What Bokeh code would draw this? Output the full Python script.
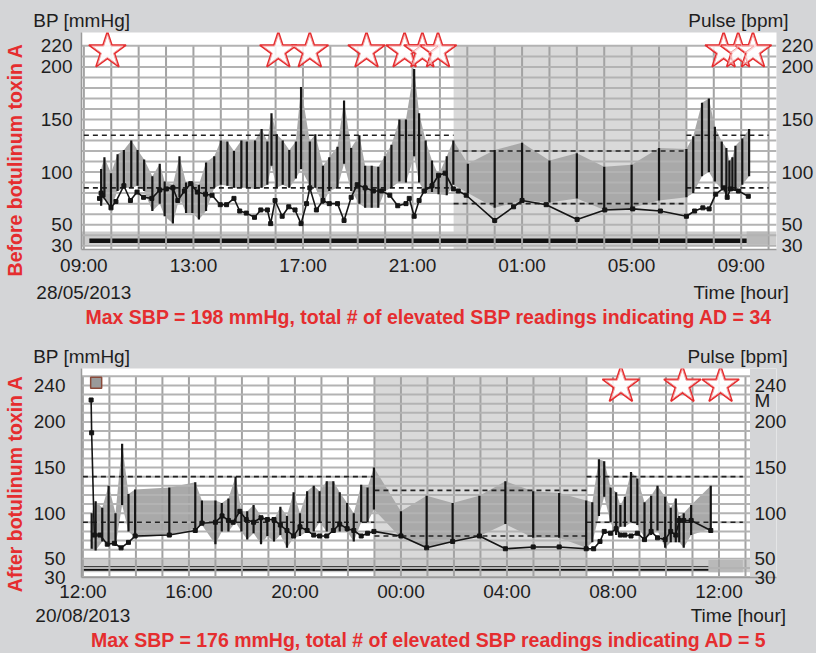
import numpy as np
from bokeh.plotting import figure
from bokeh.models import Range1d, LinearAxis, FixedTicker
from bokeh.layouts import column
from bokeh.embed import file_html
from bokeh.resources import INLINE

# ---------------- DATA: before botulinum toxin (hours after 09:00, 28/05/2013) ----------------
top_bp_t = [0.63, 0.75, 0.99, 1.23, 1.46, 1.73, 1.96, 2.20, 2.50, 2.77, 2.95, 3.25, 3.49, 3.73, 3.96,
            4.20, 4.46, 4.76, 5.00, 5.24, 5.48, 5.75, 5.95, 6.25, 6.49, 6.70, 6.85, 7.04, 7.26, 7.50,
            7.74, 7.93, 8.25, 8.45, 8.73, 8.96, 9.26, 9.50, 9.76, 10.06, 10.27, 10.51, 10.75, 10.99,
            11.23, 11.52, 11.76, 12.06, 12.24, 12.48, 12.71, 12.95, 13.25, 13.49, 14.02, 15.0, 16.0,
            17.0, 18.0, 19.0, 20.0, 21.0, 22.0, 22.25, 22.57, 22.82, 23.04, 23.29, 23.46, 23.57,
            23.68, 23.79, 24.04, 24.29]
top_sbp = [103, 114, 99, 117, 121, 130, 121, 112, 96, 108, 91, 88, 115, 90, 90,
           88, 109, 115, 130, 129, 120, 130, 129, 130, 141, 129, 156, 136, 130, 121,
           129, 181, 129, 136, 106, 114, 124, 168, 123, 135, 106, 106, 105, 115,
           126, 150, 150, 198, 156, 130, 111, 97, 115, 130, 108, 121, 128,
           111, 118, 105, 107, 123, 122, 134, 166, 170, 143, 129, 123, 111,
           114, 125, 132, 141]
top_dbp = [68, 76, 66, 82, 85, 85, 87, 82, 63, 70, 58, 51, 76, 61, 61,
           55, 63, 85, 88, 87, 85, 85, 85, 84, 85, 88, 106, 85, 88, 85,
           94, 103, 87, 85, 70, 82, 85, 108, 82, 70, 66, 66, 66, 82,
           85, 91, 90, 115, 90, 80, 81, 79, 78, 88, 80, 66, 73,
           71, 75, 64, 66, 73, 76, 80, 96, 100, 91, 84, 76, 82,
           82, 82, 88, 96]
top_pulse_t = [0.57, 0.63, 0.67, 0.99, 1.17, 1.46, 1.70, 1.94, 2.18, 2.48, 2.77, 3.01, 3.25, 3.43,
               3.67, 3.90, 4.14, 4.44, 4.68, 4.98, 5.21, 5.48, 5.69, 5.93, 6.23, 6.46, 6.70, 6.82,
               6.98, 7.24, 7.48, 7.71, 7.93, 8.13, 8.25, 8.49, 8.73, 8.96, 9.26, 9.50, 9.76, 9.98,
               10.27, 10.57, 10.87, 11.17, 11.46, 11.76, 11.88, 12.06, 12.24, 12.42, 12.71, 12.95,
               13.19, 13.49, 13.67, 13.96, 15.0, 15.69, 16.0, 16.88, 18.01, 19.02, 20.04, 21.05,
               22.0, 22.3, 22.6, 22.83, 23.07, 23.37, 23.49, 23.61, 23.9, 24.26]
top_pulse = [75, 80, 78, 66, 72, 87, 73, 81, 76, 75, 83, 84, 85, 73,
             82, 89, 81, 79, 78, 69, 69, 75, 63, 61, 57, 64, 64, 51,
             73, 58, 67, 64, 51, 70, 85, 64, 73, 70, 70, 54, 76, 88,
             85, 82, 82, 78, 68, 70, 75, 58, 73, 82, 87, 97,
             99, 84, 82, 78, 54, 67, 73, 69, 55, 64, 65, 63,
             58, 63, 66, 65, 79, 85, 76, 84, 82, 77]
top_star_t = [0.86, 7.10, 8.25, 10.32, 11.71, 12.36, 12.93, 23.36, 23.89, 24.43]
top_x_ticks = [0, 4, 8, 12, 16, 20, 24]
top_x_labels = ["09:00\n28/05/2013", "13:00", "17:00", "21:00", "01:00", "05:00", "09:00\nTime [hour]"]
top_y_ticks = [30, 50, 100, 150, 200, 220]
top_night = [13.5, 22.0]
top_day_limits = [135, 85]
top_night_limits = [120, 70]
top_record = [0.2, 24.2]
top_title = "Max SBP = 198 mmHg, total # of elevated SBP readings indicating AD = 34"
top_side = "Before botulinum toxin A"

# ---------------- DATA: after botulinum toxin (hours after 12:00, 20/08/2013) ----------------
bot_bp_t = [0.33, 0.48, 0.73, 0.97, 1.23, 1.48, 1.72, 1.97, 3.26, 4.24,
            4.49, 5.0, 5.24, 5.49, 5.76, 5.98, 6.2, 6.44, 6.72, 6.96,
            7.21, 7.45, 7.70, 7.95, 8.19, 8.46, 8.71, 8.93, 9.2, 9.45,
            9.69, 9.97, 10.22, 10.5, 10.74, 10.98, 12.0, 12.97, 13.95, 14.96,
            15.94, 16.99, 17.97, 18.99, 19.22, 19.47, 19.67, 19.91, 20.12, 20.28,
            20.45, 20.68, 20.92, 21.19, 21.44, 21.68, 21.97, 22.18, 22.37, 22.5,
            22.67, 22.95, 23.69]
bot_sbp = [100, 113, 106, 130, 100, 176, 121, 126, 128, 134,
           114, 114, 111, 116, 140, 102, 102, 109, 97, 93,
           93, 107, 97, 123, 100, 124, 130, 124, 135, 135,
           123, 111, 100, 131, 128, 150, 102, 119, 111, 119,
           135, 124, 122, 114, 112, 159, 157, 128, 123, 109,
           118, 145, 138, 112, 119, 130, 118, 106, 116, 97,
           100, 109, 130]
bot_dbp = [61, 59, 69, 68, 64, 109, 80, 73, 76, 83,
           87, 66, 80, 80, 90, 80, 71, 78, 66, 75,
           69, 76, 62, 73, 75, 80, 80, 90, 80, 80,
           80, 80, 69, 90, 90, 104, 73, 62, 69, 75,
           88, 73, 73, 62, 68, 97, 118, 90, 76, 85,
           85, 90, 87, 73, 76, 81, 62, 68, 68, 68,
           62, 76, 83]
bot_pulse_t = [0.31, 0.33, 0.43, 0.64, 0.92, 1.19, 1.44, 1.72, 1.97, 3.26,
               4.24, 4.49, 5.0, 5.25, 5.49, 5.67, 5.92, 6.16, 6.44, 6.72,
               6.96, 7.21, 7.45, 7.70, 7.95, 8.19, 8.46, 8.71, 8.93, 9.2,
               9.45, 9.69, 9.97, 10.22, 10.5, 10.74, 10.98, 12.0, 12.97, 13.95,
               14.96, 15.94, 16.99, 17.97, 18.99, 19.27, 19.51, 19.67, 19.91, 20.12,
               20.28, 20.45, 20.68, 20.92, 21.19, 21.44, 21.68, 21.97, 22.18, 22.37,
               22.5, 22.67, 22.95, 23.69]
bot_pulse = [224, 188, 76, 76, 66, 67, 62, 68, 75, 76,
             81, 89, 90, 97, 92, 90, 102, 93, 90, 95,
             93, 93, 87, 81, 75, 85, 81, 76, 75, 75,
             81, 88, 83, 81, 75, 78, 80, 75, 62, 69,
             75, 61, 63, 63, 61, 61, 69, 80, 78, 83,
             76, 76, 75, 78, 71, 80, 73, 71, 80, 76,
             92, 92, 92, 81]
bot_star_t = [20.3, 22.62, 24.06]
bot_event_t = [0.5]
bot_x_ticks = [0, 4, 8, 12, 16, 20, 24, 24.73]
bot_x_labels = ["12:00\n20/08/2013", "16:00", "20:00", "00:00", "04:00", "08:00", "12:00", " \nTime [hour]"]
bot_y_ticks = [30, 50, 100, 150, 200, 240]
bot_night = [11.0, 19.0]
bot_day_limits = [140, 90]
bot_night_limits = [125, 75]
bot_record = [0.0, 23.6]
bot_title = "Max SBP = 176 mmHg, total # of elevated SBP readings indicating AD = 5"
bot_side = "After botulinum toxin A"

# ---------------- STYLE ----------------
FONT = "Liberation Sans"
BG = "#d4d5d7"
RED = "#e52d2f"
NIGHT = "#d9d9d9"
BAND = "#a9a9a9"
GRID = "#a3a3a3"
TXT = "#1e1e1e"
FS = "19px"
RFS = "19.5px"
NBSP = "\u00a0"


def style_axis(ax, standoff):
    ax.major_label_text_font = FONT
    ax.major_label_text_font_size = FS
    ax.major_label_text_color = TXT
    ax.major_tick_line_color = None
    ax.minor_tick_line_color = None
    ax.major_tick_out = 0
    ax.major_tick_in = 0
    ax.minor_tick_out = 0
    ax.minor_tick_in = 0
    ax.axis_line_color = "#9a9a9a"
    ax.axis_line_width = 1.5
    ax.major_label_standoff = standoff


def make_panel(cfg):
    p = figure(width=816, height=cfg["height"],
               x_range=Range1d(*cfg["xr"]), y_range=Range1d(*cfg["yr"]),
               output_backend="svg", toolbar_location=None,
               min_border_left=80, min_border_right=39,
               min_border_top=cfg["mt"], min_border_bottom=cfg["mb"])
    p.background_fill_color = "white"
    p.border_fill_color = BG
    p.outline_line_color = None
    p.xgrid.visible = False
    p.ygrid.visible = False

    x0, x1 = cfg["xr"]
    y0, y1 = cfg["yr"]
    xe = cfg["data_end"]
    gtop = cfg["grid_top"]

    # area right of the chart's own plotting zone (page colour)
    if xe < x1:
        p.quad(left=[xe], right=[x1], bottom=[y0], top=[y1],
               fill_color=BG, line_color=None, level="image")
    # night shading
    p.quad(left=[cfg["night"][0]], right=[cfg["night"][1]], bottom=[y0], top=[gtop],
           fill_color=NIGHT, line_color=None, level="image")
    # recording band at the bottom
    bb0, bb1 = cfg["band_y"]
    p.quad(left=[x0], right=[xe], bottom=[bb0], top=[bb1],
           fill_color="#cdcdcd", line_color=None, level="image")
    p.quad(left=[cfg["record"][1]], right=[cfg["band_end"]], bottom=[bb0], top=[bb1],
           fill_color="#b9b9b9", line_color=None, level="image")
    # BP envelope
    p.varea(x=cfg["t"], y1=cfg["dbp"], y2=cfg["sbp"], fill_color=BAND, level="image")
    # black record bar
    rb0, rb1 = cfg["bar_y"]
    p.quad(left=[cfg["record"][0]], right=[cfg["record"][1]], bottom=[rb0], top=[rb1],
           fill_color="#111111", line_color=None, level="image")

    # grid
    hours = np.arange(0, int(xe) + 1)
    p.segment(x0=hours, y0=[y0] * len(hours), x1=hours, y1=[gtop] * len(hours),
              line_color=GRID, line_width=2, level="underlay")
    levels = np.arange(30, gtop + 1, 10)
    p.segment(x0=[x0] * len(levels), y0=levels, x1=[xe] * len(levels), y1=levels,
              line_color="#b3b3b3", line_width=2, level="underlay")

    # limit lines
    n0, n1 = cfg["night"]
    for lim in cfg["day_lim"]:
        p.segment(x0=[0, n1], y0=[lim, lim], x1=[n0, cfg["day_end"]], y1=[lim, lim],
                  line_color="#222222", line_width=1.6, line_dash="5 4")
    for lim in cfg["night_lim"]:
        p.segment(x0=[n0], y0=[lim], x1=[n1], y1=[lim],
                  line_color="#222222", line_width=1.6, line_dash="5 4")

    # BP bars
    p.segment(x0=cfg["t"], y0=cfg["dbp"], x1=cfg["t"], y1=cfg["sbp"],
              line_color="#151515", line_width=2.2)
    # pulse
    p.line(cfg["pt"], cfg["pulse"], line_color="#151515", line_width=1.6)
    p.scatter(cfg["pt"], cfg["pulse"], marker="square", size=4, color="#151515")
    # stars (red outline with a soft inner outline)
    sy = [cfg["star_y"]] * len(cfg["stars"])
    p.scatter(cfg["stars"], sy, marker="star", size=39,
              fill_color="white", fill_alpha=0.85, line_color=RED, line_width=1.8)
    p.scatter(cfg["stars"], sy, marker="star", size=33,
              fill_color=None, line_color="#f2a3a3", line_width=1.0)

    # bottom time axis + red summary as axis label
    xa = p.xaxis[0]
    xa.ticker = FixedTicker(ticks=cfg["xt"])
    xa.major_label_overrides = {t: l for t, l in zip(cfg["xt"], cfg["xl"])}
    style_axis(xa, cfg["x_standoff"])
    xa.major_label_text_line_height = cfg["line_h"]
    xa.axis_label = cfg["title"]
    xa.axis_label_text_font = FONT
    xa.axis_label_text_font_size = RFS
    xa.axis_label_text_font_style = "bold"
    xa.axis_label_text_color = RED
    xa.axis_label_standoff = cfg["title_standoff"]

    # left BP axis
    ya = p.yaxis[0]
    ya.ticker = FixedTicker(ticks=cfg["yt"])
    style_axis(ya, cfg["y_standoff"])

    # right pulse axis
    ra = LinearAxis(ticker=FixedTicker(ticks=cfg["rt"]),
                    major_label_overrides=cfg["r_over"])
    p.add_layout(ra, "right")
    style_axis(ra, cfg["r_standoff"])
    ra.axis_line_color = None

    # outer left axis: only its rotated red label (trailing no-break spaces nudge it down)
    sa = LinearAxis(ticker=FixedTicker(ticks=[]),
                    axis_label=cfg["side"] + NBSP * cfg["side_pad"])
    p.add_layout(sa, "left")
    style_axis(sa, 0)
    sa.axis_line_color = None
    sa.axis_label_text_font = FONT
    sa.axis_label_text_font_size = RFS
    sa.axis_label_text_font_style = "bold"
    sa.axis_label_text_color = RED
    sa.axis_label_standoff = cfg["side_standoff"]

    # top axis carrying the unit headers
    hx = [x0 + 0.01, cfg["pulse_hdr_t"]]
    ha = LinearAxis(ticker=FixedTicker(ticks=hx),
                    major_label_overrides={hx[0]: "BP [mmHg]", hx[1]: "Pulse [bpm]"})
    p.add_layout(ha, "above")
    style_axis(ha, 2)
    ha.axis_line_color = None
    return p


top_cfg = dict(
    height=330, mt=32, mb=74,
    xr=(-0.087, 25.29), yr=(26.4, 232.7), grid_top=220, data_end=25.29,
    night=top_night, record=top_record, band_end=24.96,
    band_y=(31.0, 43.5), bar_y=(32.5, 36.8),
    t=top_bp_t, sbp=top_sbp, dbp=top_dbp, pt=top_pulse_t, pulse=top_pulse,
    day_lim=top_day_limits, night_lim=top_night_limits, day_end=25.0,
    stars=top_star_t, star_y=215,
    xt=top_x_ticks, xl=top_x_labels, yt=top_y_ticks, rt=top_y_ticks, r_over={}, r_standoff=5,
    x_standoff=5, line_h=1.3, title=top_title, title_standoff=0,
    y_standoff=9, side=top_side, side_pad=7, side_standoff=12,
    pulse_hdr_t=23.9,
)

bot_cfg = dict(
    height=323, mt=38, mb=69,
    xr=(-0.053, 26.17), yr=(29.5, 258.5), grid_top=250, data_end=25.17,
    night=bot_night, record=bot_record, band_end=24.9,
    band_y=(35.2, 48.6), bar_y=(36.8, 41.8),
    t=bot_bp_t, sbp=bot_sbp, dbp=bot_dbp, pt=bot_pulse_t, pulse=bot_pulse,
    day_lim=bot_day_limits, night_lim=bot_night_limits, day_end=24.9,
    stars=bot_star_t, star_y=240,
    xt=bot_x_ticks, xl=bot_x_labels, yt=bot_y_ticks, rt=bot_y_ticks + [223], r_over={223: "M"},
    r_standoff=-22,
    x_standoff=3, line_h=1.15, title=bot_title, title_standoff=0,
    y_standoff=16, side=bot_side, side_pad=4, side_standoff=5,
    pulse_hdr_t=24.7,
)

p1 = make_panel(top_cfg)
p2 = make_panel(bot_cfg)
p2.scatter(bot_event_t, [243] * len(bot_event_t), marker="square", size=11,
           fill_color="#9a9a9a", line_color="#8a4a3a", line_width=1.5)

layout = column(p1, p2, spacing=0, background=BG)
open("out.html", "w").write(file_html(layout, INLINE))
